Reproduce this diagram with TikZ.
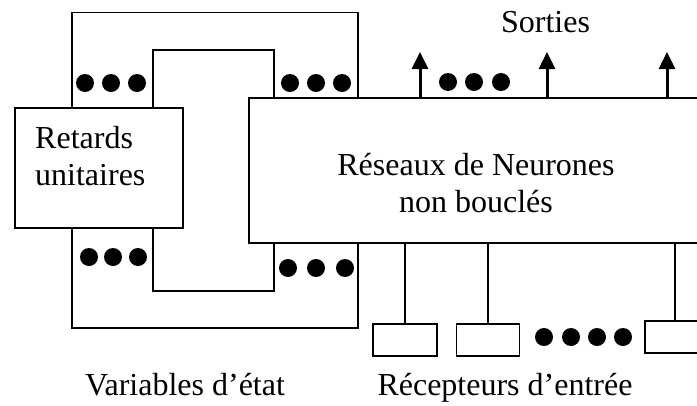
\documentclass[tikz,border=0pt]{standalone}
\usepackage{fontspec}
\setmainfont{Liberation Serif}
\usetikzlibrary{arrows.meta}
\begin{document}
\begin{tikzpicture}[x=1pt,y=-1pt,
  wire/.style={line width=1.8pt},
  box/.style={draw, line width=1.8pt, rectangle, inner sep=0pt},
  dot/.style={fill=black},
  lbl/.style={font=\fontsize{32}{37}\selectfont, inner sep=0pt},
  outarrow/.style={line width=3pt, -{Triangle[width=16pt,length=17pt]}}
]
\useasboundingbox (0,0) rectangle (697,405);

% unit delay block
\node[box, minimum width=168pt, minimum height=120pt] (ret) at (99,168) {};
\node[lbl, anchor=base west] (rettxt) at (35,148)
  {\setlength{\tabcolsep}{0pt}\begin{tabular}[t]{l}Retards\\unitaires\end{tabular}};

% feed-forward network block (open on the right)
\coordinate (nnTL) at (249,98);
\coordinate (nnBL) at (249,243);
\coordinate (nnTR) at (697,98);
\coordinate (nnBR) at (697,243);
\draw[wire] (nnTR) -- (nnTL) -- (nnBL) -- (nnBR);
\node[lbl, anchor=base] (nntxt) at (476,175)
  {\setlength{\tabcolsep}{0pt}\begin{tabular}[t]{c}Réseaux de Neurones\\non bouclés\end{tabular}};

% state buses between the two blocks
\coordinate (oL)  at (72,12.5);
\coordinate (oR)  at (358,12.5);
\coordinate (iL)  at (153,50);
\coordinate (iR)  at (274,50);
\coordinate (oLb) at (72,328);
\coordinate (oRb) at (358,328);
\coordinate (iLb) at (153,291);
\coordinate (iRb) at (274,291);
\draw[wire] (oL |- ret.north) -- (oL) -- (oR) -- (oR |- nnTL);
\draw[wire] (iL |- ret.north) -- (iL) -- (iR) -- (iR |- nnTL);
\draw[wire] (oLb |- ret.south) -- (oLb) -- (oRb) -- (oRb |- nnBL);
\draw[wire] (iLb |- ret.south) -- (iLb) -- (iRb) -- (iRb |- nnBL);

% ellipses on the buses
\foreach \x in {85,111,137} \fill[dot] (\x,83) circle (9);
\foreach \x in {290,316,342} \fill[dot] (\x,83) circle (9);
\foreach \x in {89,113,138} \fill[dot] (\x,257) circle (9);
\foreach \x in {288,316,345} \fill[dot] (\x,268) circle (9);

% outputs
\coordinate (s1) at (420,52);
\coordinate (s2) at (547,52);
\coordinate (s3) at (667,52);
\foreach \s in {s1,s2,s3} \draw[outarrow] (\s |- nnTL) -- (\s);
\foreach \x in {448,474,501} \fill[dot] (\x,82) circle (9);
\node[lbl, anchor=base] (sorties) at (545.5,32) {Sorties};

% input receptors
\node[box, minimum width=64pt, minimum height=32pt] (r1) at (405,340) {};
\node[box, minimum width=63pt, minimum height=32pt] (r2) at (488,340) {};
\coordinate (r3TL) at (645,321);
\coordinate (r3BL) at (645,353);
\draw[wire] (697,321) -- (r3TL) -- (r3BL) -- (697,353);
\coordinate (r3top) at (675,321);
\draw[wire] (r1.north |- nnBL) -- (r1.north);
\draw[wire] (r2.north |- nnBL) -- (r2.north);
\draw[wire] (r3top |- nnBL) -- (r3top);
\foreach \x in {544,571,597,623} \fill[dot] (\x,337) circle (9);

% captions
\node[lbl, anchor=base] (vartxt) at (185,395) {Variables d’état};
\node[lbl, anchor=base] (rectxt) at (505,395) {Récepteurs d’entrée};
\end{tikzpicture}
\end{document}
